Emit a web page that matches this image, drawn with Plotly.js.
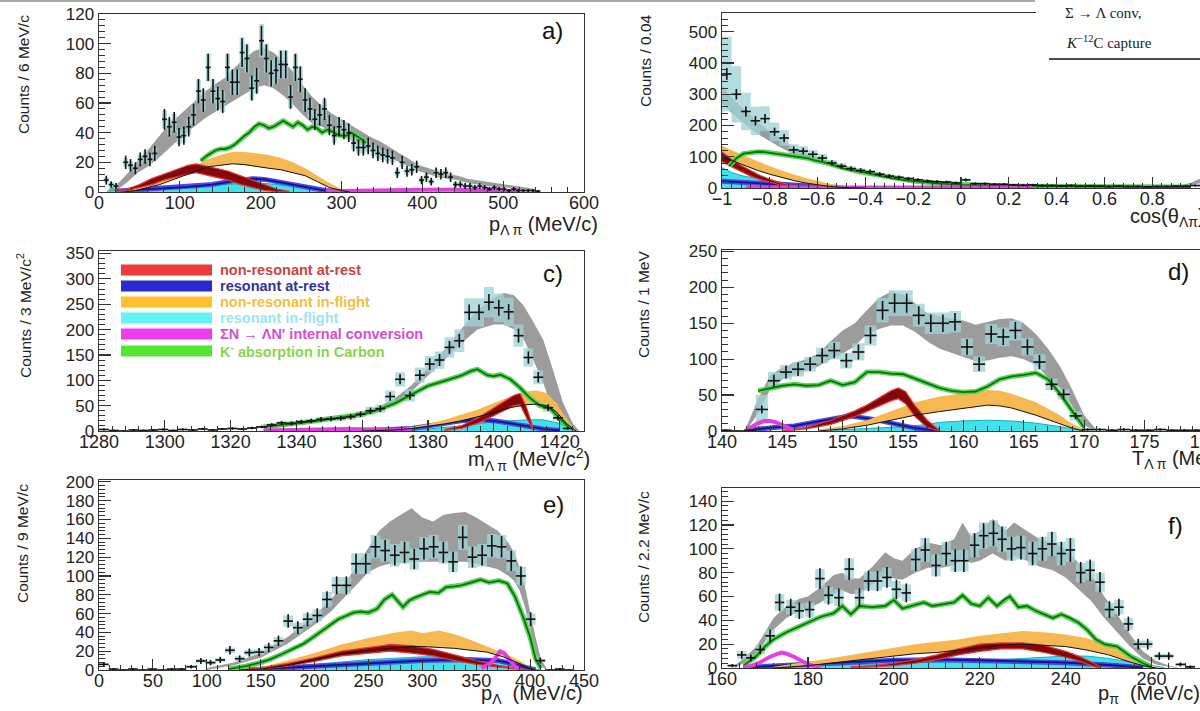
<!DOCTYPE html>
<html><head><meta charset="utf-8">
<script src="https://cdn.plot.ly/plotly-3.0.1.min.js"></script>
<style>html,body{margin:0;padding:0;overflow:hidden;background:#fff;width:1200px;height:711px}#chart{width:1240px;height:711px}</style>
</head><body><div id="chart"></div>
<script>
// ---------------- Panel a: p_{Lambda pi} ----------------
const A_X = [9,15,21,33,39,45,51,57,63,69,81,87,93,99,105,111,117,123,129,135,141,147,153,159,165,171,177,183,189,195,201,207,213,219,225,231,237,243,249,255,261,267,273,279,285,291,297,303,309,315,321,327,333,339,345,351,357,363,369,375,381,387,393,399,405,411,417,423,429,435,441,447,453,459,465,471,477,483,489,495,501,507,513,519,525,531,537,543];
const A_Y = [8,5,4,20,18,16,22,24,22,26,49,44,47,37,38,44,52,68,62,84,68,63,61,84,74,74,94,90,70,75,102,90,80,82,86,86,64,84,76,62,56,49,52,56,45,38,44,42,40,33,30,30,31,28,26,25,24,23,13,20,14,15,17,8,10,7,13,12,13,10,5,5,4,4,3,4,3,2,3,2,2,1,2,1,1,1,1,0.5];
const A_E = [3,2.2,2,4.5,4.2,4,4.7,4.9,4.7,5.1,7,6.6,6.9,6.1,6.2,6.6,7.2,8.2,7.9,9.2,8.2,7.9,7.8,9.2,8.6,8.6,9.7,9.5,8.4,8.7,10,9.5,8.9,9,9.3,9.3,8,9.2,8.7,7.9,7.5,7,7.2,7.5,6.7,6.2,6.6,6.5,6.3,5.7,5.5,5.5,5.6,5.3,5.1,5,4.9,4.8,3.6,4.5,3.7,3.9,4.1,2.8,3.2,2.6,3.6,3.5,3.6,3.2,2.2,2.2,2,2,1.7,2,1.7,1.4,1.7,1.4,1.4,1,1.4,1,1,1,1,0.7];
const A_S = [2,1.5,1.4,3,2.8,2.6,3.2,3.4,3.2,3.6,5.9,5.4,5.7,4.7,4.8,5.4,6.2,7.8,7.2,9.4,7.8,7.3,7.1,9.4,8.4,8.4,10.4,10,8,8.5,11.2,10,9,9.2,9.6,9.6,7.4,9.4,8.6,7.2,6.6,5.9,6.2,6.6,5.5,4.8,5.4,5.2,5,4.3,4,4,4.1,3.8,3.6,3.5,3.4,3.3,2.3,3,2.4,2.5,2.7,1.8,2,1.7,2.3,2.2,2.3,2,1.5,1.5,1.4,1.4,1.3,1.4,1.3,1.2,1.3,1.2,1.2,1.1,1.2,1.1,1.1,1.1,1.1,1];
const A_GRAY_X = [12,24,36,48,60,72,84,96,108,120,132,144,156,168,180,192,204,216,228,240,252,264,276,288,300,312,324,336,348,360,372,384,396,408,420,432,444,456,468,480,492,504,516,528,540];
const A_GRAY_HI = [2,6,13,21,28,36,44,50,56,62,68,73,77,84,90,95,97,94,88,81,72,64,58,53,49,45,41,37,34,30,26,22,18,16,14,12,11,9,8,7,6,5,4,3,2];
const A_GRAY_LO = [0,2,7,13,17,22,28,34,40,45,50,54,58,62,66,70,72,70,65,59,52,46,44,41,38,35,32,29,26,23,20,17,14,12,10,9,8,6,5,4,3,3,2,1,0];
const A_GREEN_X = [126,132,138,144,150,156,162,168,174,180,186,192,198,204,210,216,222,228,234,240,246,252,258,264,270,276,282,288,294,300,306,312,318,324,330];
const A_GREEN_Y = [21,24,26,28,29,29,30,32,35,38,40,44,46,45,43,44,46,48,46,44,47,45,42,44,43,40,42,41,39,38,38,40,38,36,33];
const A_OR_X = [30,45,60,75,90,105,120,135,150,165,180,195,210,225,240,255,270,285,300,310];
const A_OR_HI = [1,3,5,8,11,14,18,22,25,27,27,26,25,23,20,16,11,6,2,0.5];
const A_OR_LO = [0,1,3,5,8,11,14,17,18,19,18.5,17,16,15,13,11,7,3,1,0];
const A_RED_X = [20,35,50,65,80,95,110,120,130,145,160,175,190,205,220,235];
const A_RED_HI = [0.5,2,5,9,12,15,18,19,18,16,14,11,8,5,2,0.5];
const A_RED_LO = [0,1,3,5,8,10,12,13,12,10,8,5,3,1,0.3,0];
const A_BLUE_X = [20,50,80,110,140,160,175,190,205,220,235,250,265,280,295];
const A_BLUE_Y = [0.5,1.5,2.5,3.5,5,7,8,9,8.5,7,5.5,3.5,2,1,0.3];
const A_CYAN_X = [10,30,60,90,120,150,180,200,220,240,260,280,300,320];
const A_CYAN_Y = [0.5,2,3.5,4,4.5,5,6,6,5,4,3,1.5,0.5,0];
const A_MAG_X = [280,320,360,400,440,480,520];
const A_MAG_Y = [0.5,1,1.5,1.5,1.5,1,0.5];

// ---------------- Panel b: cos(theta) ----------------
const B_X = [-0.98,-0.94,-0.90,-0.86,-0.82,-0.78,-0.74,-0.70,-0.66,-0.62,-0.58,-0.54,-0.50,-0.46,-0.42,-0.38,-0.34,-0.30,-0.26,-0.22,-0.18,-0.14,-0.10,-0.06,-0.02,0.02,0.06,0.10,0.14,0.18,0.22,0.26,0.30,0.34,0.38,0.42,0.46,0.50,0.54,0.58,0.62,0.66,0.70,0.74,0.78,0.82,0.86,0.90,0.94,0.98];
const B_Y = [365,300,245,215,222,180,160,122,118,108,96,80,70,62,56,52,44,38,34,30,26,22,20,19,16,26,14,14,12,12,10,9,10,8,8,7,8,6,7,6,5,6,5,5,4,5,5,6,6,8];
const B_E = [19,17,16,15,15,13,13,11,11,10,10,9,8,8,7.5,7,6.6,6.2,5.8,5.5,5.1,4.7,4.5,4.4,4,5.1,3.7,3.7,3.5,3.5,3.2,3,3.2,2.8,2.8,2.6,2.8,2.4,2.6,2.4,2.2,2.4,2.2,2.2,2,2.2,2.2,2.4,2.4,2.8];
const B_S = [120,90,60,45,40,30,25,18,15,14,12,10,9,8,7,6,5,5,4,3,3,3,3,3,3,3,2,2,2,2,2,2,2,2,2,2,2,2,2,2,2,2,2,2,2,2,2,2,2,2];
const B_GRAY_X = [-1,-0.96,-0.92,-0.88,-0.84,-0.80,-0.76,-0.72,-0.68,-0.64,-0.60,-0.56,-0.52,-0.48,-0.44,-0.40,-0.36,-0.32,-0.28,-0.24,-0.20,-0.10,0,0.1,0.2,0.3,0.4,0.5,0.6,0.7,0.8,0.88,0.92,0.96,1.0];
const B_GRAY_HI = [330,290,260,232,205,182,160,140,124,110,97,86,77,69,62,55,49,44,39,35,31,23,18,14,12,10,9,8,7,7,7,8,10,16,30];
const B_GRAY_LO = [270,240,215,190,168,150,132,116,102,90,80,71,63,57,51,45,40,36,32,28,25,18,14,11,9,8,7,6,5,5,5,6,7,10,15];
const B_GREEN_X = [-0.97,-0.94,-0.91,-0.88,-0.85,-0.82,-0.79,-0.76,-0.73,-0.70,-0.67,-0.64,-0.61,-0.58,-0.55,-0.52,-0.49,-0.46,-0.43,-0.40,-0.36,-0.32,-0.28,-0.24,-0.20,-0.10,0,0.1,0.2,0.4,0.6,0.8,0.96];
const B_GREEN_Y = [70,95,110,114,116,115,112,108,104,101,98,95,88,84,78,70,62,58,53,49,42,35,30,25,22,15,10,8,6,5,4,3,3];
const B_OR_X = [-1,-0.95,-0.9,-0.85,-0.8,-0.75,-0.7,-0.65,-0.6,-0.55,-0.5,-0.45,-0.4];
const B_OR_HI = [135,118,100,85,70,56,43,32,22,14,8,3,0.5];
const B_OR_LO = [100,85,70,56,44,33,24,16,10,5,2,0.5,0];
const B_RED_X = [-1,-0.96,-0.92,-0.88,-0.84,-0.80,-0.76,-0.72,-0.68,-0.64,-0.60];
const B_RED_HI = [115,92,72,55,40,28,18,11,6,3,1];
const B_RED_LO = [85,68,52,38,27,18,11,6,3,1,0];
const B_BLUE_X = [-1,-0.95,-0.9,-0.85,-0.8,-0.75,-0.7,-0.65,-0.6,-0.55,-0.5];
const B_BLUE_Y = [22,20,18,16,14,11,8,5,3,1.5,0.5];
const B_CYAN_X = [-1,-0.96,-0.92,-0.88,-0.84,-0.8,-0.75,-0.7,-0.65,-0.6,-0.55,-0.5,-0.45];
const B_CYAN_Y = [65,50,40,33,28,23,18,13,9,6,4,2,0.5];
const B_MAG_X = [-0.9,-0.6,-0.3,0,0.3];
const B_MAG_Y = [2,3,3,2,1];

// ---------------- Panel c: m_{Lambda pi} ----------------
const C_X = [1281.5,1284.5,1287.5,1290.5,1293.5,1296.5,1299.5,1302.5,1305.5,1308.5,1311.5,1314.5,1317.5,1320.5,1323.5,1326.5,1329.5,1332.5,1335.5,1338.5,1341.5,1344.5,1347.5,1350.5,1353.5,1356.5,1359.5,1362.5,1365.5,1368.5,1371.5,1374.5,1377.5,1380.5,1383.5,1386.5,1389.5,1392.5,1395.5,1398.5,1401.5,1404.5,1407.5,1410.5,1413.5,1416.5,1419.5,1422.5];
const C_Y = [3,1,0,2,1,2,3,1,3,2,4,2,4,5,4,6,8,12,16,15,18,20,23,24,25,28,33,40,44,68,102,70,110,132,140,165,178,234,234,254,243,235,188,145,106,46,26,5];
const C_E = [1.7,1,0.5,1.4,1,1.4,1.7,1,1.7,1.4,2,1.4,2,2.2,2,2.4,2.8,3.5,4,3.9,4.2,4.5,4.8,4.9,5,5.3,5.7,6.3,6.6,8.2,10,8.4,10.5,11.5,11.8,12.8,13.3,15.3,15.3,16,15.6,15.3,13.7,12,10.3,6.8,5.1,2.2];
const C_S = [1,1,0.5,1,1,1,1,1,1,1,1.5,1,1.5,1.5,1.5,2,2,3,3,3,4,4,5,5,5,6,6,8,8,12,14,12,15,16,17,20,22,28,28,30,28,28,22,18,14,8,6,2];
const C_GRAY_X = [1325,1330,1335,1340,1345,1350,1355,1360,1365,1370,1375,1380,1385,1390,1395,1400,1403,1406,1409,1412,1415,1418,1421,1424,1426];
const C_GRAY_HI = [6,9,13,18,22,27,32,38,48,65,90,125,160,200,238,262,272,268,248,215,180,120,56,15,2];
const C_GRAY_LO = [3,6,10,14,18,22,27,33,42,56,78,108,140,172,200,210,210,201,182,140,95,40,5,0,0];
const C_GREEN_X = [1330,1335,1340,1345,1350,1355,1360,1365,1370,1375,1380,1385,1390,1393,1395,1398,1400,1402,1405,1408,1411,1414,1417,1420,1423];
const C_GREEN_Y = [8,11,15,19,24,28,33,42,55,72,89,99,109,118,122,110,108,111,102,85,65,50,45,25,5];
const C_OR_X = [1360,1370,1375,1380,1385,1390,1395,1400,1405,1410,1413,1416,1419,1422,1425];
const C_OR_HI = [1,4,8,14,22,32,42,55,68,78,80,75,55,25,2];
const C_OR_LO = [0,2,5,9,14,20,28,36,46,52,53,50,38,15,0];
const C_RED_X = [1385,1390,1395,1400,1403,1406,1408,1410,1412];
const C_RED_HI = [3,10,25,45,58,70,74,45,5];
const C_RED_LO = [1,5,15,30,40,50,52,25,2];
const C_BLUE_X = [1360,1370,1375,1380,1385,1390,1395,1400,1405,1410,1415,1420];
const C_BLUE_Y = [0.5,2,5,10,15,20,22,20,15,9,4,1];
const C_CYAN_X = [1370,1380,1390,1395,1400,1405,1410,1415,1420,1424];
const C_CYAN_Y = [1,4,10,14,18,20,22,22,15,2];
const C_MAG_X = [1330,1345,1355,1365,1375];
const C_MAG_Y = [1,3,4,3,1];

// ---------------- Panel d: T_{Lambda pi} ----------------
const D_X = [140.3,141.3,142.3,143.3,144.3,145.3,146.3,147.3,148.3,149.3,150.3,151.3,152.3,153.3,154.3,155.3,156.3,157.3,158.3,159.3,160.3,161.3,162.3,163.3,164.3,165.3,166.3,167.3,168.3,169.3,170.3,171.3,172.3,173.3,174.3,175.3,176.3,177.3,178.3,179.3,180.3,181.3];
const D_Y = [1,0,1,30,70,82,86,93,105,112,98,110,133,168,178,178,161,150,150,152,117,93,135,131,140,117,96,65,51,21,2,2,1,2,1,1,2,1,1,1,1,1];
const D_E = [1,0,1,5.5,8.4,9,9.3,9.6,10.2,10.6,9.9,10.5,11.5,13,13.3,13.3,12.7,12.2,12.2,12.3,10.8,9.6,11.6,11.4,11.8,10.8,9.8,8,7.1,4.6,1.4,1.4,1,1.4,1,1,1.4,1,1,1,1,1];
const D_S = [1,0,1,20,12,10,10,10,11,12,11,12,14,17,18,18,16,15,15,15,12,11,14,13,14,12,11,8,7,6,2,1,1,1,1,1,1,1,1,1,1,1];
const D_GRAY_X = [142,143,144,145,146,147,148,149,150,151,152,153,154,155,156,157,158,159,160,161,162,163,164,165,166,167,168,169,170,171];
const D_GRAY_HI = [5,45,78,88,95,100,108,125,140,150,168,185,194,190,178,164,160,157,154,148,152,156,157,150,135,115,90,58,22,2];
const D_GRAY_LO = [0,25,58,72,78,84,90,100,108,118,135,142,147,147,138,125,115,108,103,97,98,102,104,100,92,75,60,35,8,0];
const D_GREEN_X = [143,144,145,146,147,148,149,150,151,152,153,154,155,156,157,158,159,160,161,162,163,164,165,166,167,168,169,170];
const D_GREEN_Y = [56,60,63,65,63,64,70,64,68,82,82,80,79,73,66,60,56,54,55,62,72,76,78,81,72,52,28,5];
const D_OR_X = [148,150,152,154,156,158,160,161,162,163,164,166,168,169,170];
const D_OR_HI = [2,7,15,28,40,48,53,55,57,56,52,40,22,10,2];
const D_OR_LO = [0,3,8,15,22,27,32,34,36,35,32,22,10,4,0];
const D_RED_X = [145,147,149,151,152,153,154,154.6,155.2,156,157,158];
const D_RED_HI = [1,5,15,28,36,46,56,60,55,35,15,1];
const D_RED_LO = [0,3,9,20,27,35,42,45,38,20,5,0];
const D_BLUE_X = [142,143,144,145,146,147,148,149,150,150.5,151,152,153,154,155,156,157,158];
const D_BLUE_Y = [1,3,4,6,7,10,13,17,20,21,20,18,15,11,7,4,2,0.5];
const D_CYAN_X = [149,152,155,157,158,160,162,164,166,168,169,170];
const D_CYAN_Y = [1,3,6,9,12,14,15,14,11,6,3,0.5];
const D_MAG_X = [142,142.5,143,143.5,144,144.5,145,145.5,146];
const D_MAG_Y = [1,6,11,14,14,12,8,4,1];

// ---------------- Panel e: p_{Lambda} ----------------
const E_X = [4.5,13.5,22.5,31.5,40.5,49.5,58.5,67.5,76.5,85.5,94.5,103.5,112.5,121.5,130.5,139.5,148.5,157.5,166.5,175.5,184.5,193.5,202.5,211.5,220.5,229.5,238.5,247.5,256.5,265.5,274.5,283.5,292.5,301.5,310.5,319.5,328.5,337.5,346.5,355.5,364.5,373.5,382.5,391.5,400.5,409.5,418.5,427.5,436.5];
const E_Y = [6,1,0,1,0,1,0,1,1,3.5,9.6,7.8,10.7,21,12,18.5,19,24,31,52,45,54,58,75,90,90,113,113,131,127,122,125,118,129,131,125,115,141,120,122,132,131,116,100,54,10,0,1,0];
const E_E = [2.4,1,0,1,0,1,0,1,1,1.9,3.1,2.8,3.3,4.6,3.5,4.3,4.4,4.9,5.6,7.2,6.7,7.3,7.6,8.7,9.5,9.5,10.6,10.6,11.4,11.3,11,11.2,10.9,11.4,11.4,11.2,10.7,11.9,11,11,11.5,11.4,10.8,10,7.3,3.2,0,1,0];
const E_S = [1,0.5,0,0.5,0,0.5,0,0.5,0.5,1,2,2,2,3,2.5,3,3,3.5,4,6,5.5,6,6.5,8,9,9,11,11,12.5,12,12,12,11.5,12.5,12.5,12,11,13.5,11.5,12,12.5,12.5,11,10,6,2,0,0.5,0];
const E_GRAY_X = [100,125,150,175,200,215,230,240,250,260,270,280,290,300,310,320,330,340,350,360,370,380,385,390,395,400,405,410,415];
const E_GRAY_HI = [2,8,18,35,58,75,95,112,130,148,158,165,172,162,158,165,167,168,162,155,148,135,125,110,90,62,35,12,2];
const E_GRAY_LO = [0,5,13,28,48,62,80,92,104,110,113,114,115,115,115,115,115,115,113,110,107,100,95,85,68,45,20,5,0];
const E_GREEN_X = [120,136,150,158,170,179,190,200,210,222,230,236,243,250,258,265,272,278,282,288,293,300,307,315,322,330,336,345,354,362,371,379,386,393,400,405,410];
const E_GREEN_Y = [1,4,8,11,17,22,28,36,44,54,58,61,62,61,65,75,80,72,67,74,77,80,83,82,88,89,90,93,96,93,95,92,78,58,35,12,2];
const E_OR_X = [130,150,175,200,225,250,275,290,300,315,330,345,360,375,390,400,405];
const E_OR_HI = [1,3,10,18,27,34,40,42,39,42,38,32,25,18,10,3,0.5];
const E_OR_LO = [0,1,5,11,17,21,24,25,25,24,23,21,19,14,7,2,0];
const E_RED_X = [130,150,175,200,225,250,270,290,310,330,350,370,390,400];
const E_RED_HI = [0.5,2,7,13,20,24,27,26,22,16,10,5,2,0.5];
const E_RED_LO = [0,1,4,9,15,18,20,18,15,10,6,3,1,0];
const E_BLUE_X = [130,150,200,250,300,340,370,390,400,405];
const E_BLUE_Y = [0.5,1,4,7,10,11,10,5,1,0];
const E_CYAN_X = [120,150,200,250,300,330,360,380,400,410];
const E_CYAN_Y = [1,2,6,11,14,14,12,8,2,0];
const E_MAG_X = [355,362,368,372,376,380,385,390];
const E_MAG_Y = [2,6,13,20,18,12,5,1];

// ---------------- Panel f: p_{pi} ----------------
const F_X = [162.4,164.6,166.7,168.9,171.2,173.4,176.0,178.0,180.4,182.8,184.8,187.2,189.6,192.0,194.1,196.2,198.4,200.6,202.9,205.1,207.3,209.8,212.2,214.3,216.3,218.8,220.9,223.2,225.2,227.4,229.6,232.3,234.6,236.8,239.0,241.1,243.5,245.7,248.0,250.2,252.4,254.6,256.9,259.1,261.8,264.0,266.7,269.0];
const F_Y = [2,11,8.5,15.5,27,55,51,48,49,75,61,59,83,59,73,73,76,66,63,91,99,86,96,90,90,103,111,113,108,100,101,96,100,104,96,99,80,82,72,49,51,37,20,20,10,10,3,1];
const F_E = [1.4,3.3,2.9,3.9,5.2,7.4,7.1,6.9,7,8.7,7.8,7.7,9.1,7.7,8.5,8.5,8.7,8.1,7.9,9.5,9.9,9.3,9.8,9.5,9.5,10.1,10.5,10.6,10.4,10,10,9.8,10,10.2,9.8,9.9,8.9,9,8.5,7,7.1,6.1,4.5,4.5,3.2,3.2,1.7,1];
const F_S = [1,3,3,4,5,7,6,6,6,8,7,7,9,7,8,8,8,7,7,9,10,9,10,9,9,10,11,11,11,10,10,10,10,10,10,10,8,8,8,6,6,5,3,3,2,2,1,1];
const F_GRAY_X = [163,165,168,170,172,175,178,180,183,186,188,190,192,195,198,200,202,205,208,211,214,216,218,220,223,226,228,231,234,237,240,243,246,249,252,255,258,261,264,266];
const F_GRAY_HI = [2,8,18,30,42,52,58,60,68,78,80,75,75,85,97,92,90,100,105,103,108,122,110,115,125,115,122,115,108,105,100,88,78,60,45,28,14,6,2,0.5];
const F_GRAY_LO = [0,4,12,22,32,42,48,50,55,62,65,62,62,70,78,75,74,80,84,84,86,92,88,90,96,90,94,90,85,82,76,66,56,42,30,18,8,3,1,0];
const F_GREEN_X = [165,168,170,172,175,178,180,183,186,188,190,192,195,198,200,202,204,207,209,212,214,216,218,220,222,224,226,227,229,231,233,235,237,239,241,243,245,247,249,252,255,258,260];
const F_GREEN_Y = [2,10,18,24,30,35,38,43,46,52,45,52,51,52,57,50,52,55,52,54,55,61,54,52,59,52,58,60,51,52,48,45,42,45,42,38,32,24,20,18,10,4,1];
const F_OR_X = [172,180,185,190,195,200,205,210,215,220,225,230,235,240,245,250,255,258,261];
const F_OR_HI = [1,5,8,11,14,17,20,22,24,27,29,31,30,28,25,19,11,5,1];
const F_OR_LO = [0,2,4,6,8,10,12,13,15,17,19,20,19,18,15,11,5,2,0];
const F_RED_X = [190,195,200,205,210,215,220,225,230,235,240,243,246,248];
const F_RED_HI = [1,2,4,7,11,16,20,21,21,19,14,10,5,1];
const F_RED_LO = [0,1,2,4,7,11,14,16,16,13,9,6,2,0];
const F_BLUE_X = [165,170,180,190,200,210,220,230,240,250,255,258];
const F_BLUE_Y = [0.5,1.5,3,5,6.5,7,6.5,5.5,4.5,2.5,1,0.3];
const F_CYAN_X = [170,180,190,200,210,220,230,235,240,245,250,255,260,263];
const F_CYAN_Y = [0.5,1.5,2.5,3.5,4.5,6,8,9,10,10,8,5,2,0.3];
const F_MAG_X = [165,167,169,171,173,174,175,177,179,181,183];
const F_MAG_Y = [0.5,2,5,9,12,13,12,9,5,2,0.5];

const LEGEND_LABELS = ["non-resonant at-rest","resonant at-rest","non-resonant in-flight","resonant in-flight","ΣN → ΛN' internal conversion","K<sup>-</sup> absorption in Carbon"];

// ---------------- drawing ----------------
const W = 1240, H = 711;
const FONT = 'Liberation Sans, Arial, Helvetica, sans-serif';
const px = x => x / W, py = y => 1 - y / H;

function poly(xs, lo, hi) { return {x: xs.concat(xs.slice().reverse()), y: hi.concat(lo.slice().reverse())}; }
function boxes(X, Y, S, hw) {
  const x = [], y = [];
  X.forEach((xv, i) => { const l = Y[i] - S[i], h = Y[i] + S[i];
    x.push(xv - hw, xv + hw, xv + hw, xv - hw, xv - hw, null); y.push(l, l, h, h, l, null); });
  return {x, y};
}

const panels = [
  {xa:'x', ya:'y', bw:6, X:A_X,Y:A_Y,E:A_E,S:A_S, gX:A_GRAY_X,gL:A_GRAY_LO,gH:A_GRAY_HI, grX:A_GREEN_X,grY:A_GREEN_Y, oX:A_OR_X,oL:A_OR_LO,oH:A_OR_HI, rX:A_RED_X,rL:A_RED_LO,rH:A_RED_HI, bX:A_BLUE_X,bY:A_BLUE_Y, cX:A_CYAN_X,cY:A_CYAN_Y, mX:A_MAG_X,mY:A_MAG_Y},
  {xa:'x2', ya:'y2', bw:0.04, X:B_X,Y:B_Y,E:B_E,S:B_S, gX:B_GRAY_X,gL:B_GRAY_LO,gH:B_GRAY_HI, grX:B_GREEN_X,grY:B_GREEN_Y, oX:B_OR_X,oL:B_OR_LO,oH:B_OR_HI, rX:B_RED_X,rL:B_RED_LO,rH:B_RED_HI, bX:B_BLUE_X,bY:B_BLUE_Y, cX:B_CYAN_X,cY:B_CYAN_Y, mX:B_MAG_X,mY:B_MAG_Y},
  {xa:'x3', ya:'y3', bw:3, X:C_X,Y:C_Y,E:C_E,S:C_S, gX:C_GRAY_X,gL:C_GRAY_LO,gH:C_GRAY_HI, grX:C_GREEN_X,grY:C_GREEN_Y, oX:C_OR_X,oL:C_OR_LO,oH:C_OR_HI, rX:C_RED_X,rL:C_RED_LO,rH:C_RED_HI, bX:C_BLUE_X,bY:C_BLUE_Y, cX:C_CYAN_X,cY:C_CYAN_Y, mX:C_MAG_X,mY:C_MAG_Y},
  {xa:'x4', ya:'y4', bw:1, X:D_X,Y:D_Y,E:D_E,S:D_S, gX:D_GRAY_X,gL:D_GRAY_LO,gH:D_GRAY_HI, grX:D_GREEN_X,grY:D_GREEN_Y, oX:D_OR_X,oL:D_OR_LO,oH:D_OR_HI, rX:D_RED_X,rL:D_RED_LO,rH:D_RED_HI, bX:D_BLUE_X,bY:D_BLUE_Y, cX:D_CYAN_X,cY:D_CYAN_Y, mX:D_MAG_X,mY:D_MAG_Y},
  {xa:'x5', ya:'y5', bw:9, X:E_X,Y:E_Y,E:E_E,S:E_S, gX:E_GRAY_X,gL:E_GRAY_LO,gH:E_GRAY_HI, grX:E_GREEN_X,grY:E_GREEN_Y, oX:E_OR_X,oL:E_OR_LO,oH:E_OR_HI, rX:E_RED_X,rL:E_RED_LO,rH:E_RED_HI, bX:E_BLUE_X,bY:E_BLUE_Y, cX:E_CYAN_X,cY:E_CYAN_Y, mX:E_MAG_X,mY:E_MAG_Y},
  {xa:'x6', ya:'y6', bw:2.2, X:F_X,Y:F_Y,E:F_E,S:F_S, gX:F_GRAY_X,gL:F_GRAY_LO,gH:F_GRAY_HI, grX:F_GREEN_X,grY:F_GREEN_Y, oX:F_OR_X,oL:F_OR_LO,oH:F_OR_HI, rX:F_RED_X,rL:F_RED_LO,rH:F_RED_HI, bX:F_BLUE_X,bY:F_BLUE_Y, cX:F_CYAN_X,cY:F_CYAN_Y, mX:F_MAG_X,mY:F_MAG_Y}
];

const traces = [];
panels.forEach(P => {
  const base = {xaxis:P.xa, yaxis:P.ya, type:'scatter', hoverinfo:'skip', showlegend:false};
  const g = poly(P.gX, P.gL, P.gH);
  traces.push({...base, x:g.x, y:g.y, mode:'lines', fill:'toself', fillcolor:'#9c9c9c', line:{width:0}});
  const b = boxes(P.X, P.Y, P.S, P.bw * 0.5);
  traces.push({...base, x:b.x, y:b.y, mode:'lines', fill:'toself', fillcolor:'rgba(160,210,214,0.78)', line:{width:0}});
  traces.push({...base, x:P.cX, y:P.cY, mode:'lines', fill:'tozeroy', fillcolor:'#40e2ea', line:{color:'#10b0c0', width:1}});
  traces.push({...base, x:P.bX, y:P.bY, mode:'lines', line:{color:'#4a4ae6', width:5}});
  traces.push({...base, x:P.bX, y:P.bY, mode:'lines', line:{color:'#14148a', width:1.8}});
  const o = poly(P.oX, P.oL, P.oH);
  traces.push({...base, x:o.x, y:o.y, mode:'lines', fill:'toself', fillcolor:'#f6b852', line:{width:0}});
  const r = poly(P.rX, P.rL, P.rH);
  traces.push({...base, x:r.x, y:r.y, mode:'lines', fill:'toself', fillcolor:'#840808', line:{color:'#e03a3a', width:1.2}});
  traces.push({...base, x:P.grX, y:P.grY, mode:'lines', line:{color:'#5cd25c', width:5}});
  traces.push({...base, x:P.grX, y:P.grY, mode:'lines', line:{color:'#0a740a', width:1.8}});
  traces.push({...base, x:P.mX, y:P.mY, mode:'lines', line:{color:'#e23ee2', width:4}});
  traces.push({...base, x:P.oX, y:P.oL, mode:'lines', line:{color:'#111', width:1}});
  traces.push({...base, x:P.X, y:P.Y, mode:'markers', marker:{size:2, color:'#111'},
    error_y:{type:'data', array:P.E, visible:true, color:'#111', thickness:1.6, width:0},
    error_x:{type:'constant', value:P.bw / 2, visible:true, color:'#111', thickness:1.6, width:0}});
});

function xax(d0, d1, range, dtick, mdt, anchor, extra) {
  return Object.assign({domain:[px(d0), px(d1)], range, dtick, anchor, ticks:'inside', ticklen:11, tickwidth:1.2, tickcolor:'#333',
    showline:true, linecolor:'#333', linewidth:1.4, mirror:true, showgrid:false, zeroline:false, ticklabelstandoff:-6,
    tickfont:{family:FONT, size:18, color:'#222'}, minor:{dtick:mdt, ticks:'inside', ticklen:5, tickwidth:1, tickcolor:'#333', showgrid:false}}, extra || {});
}
function yax(top, bot, range, dtick, mdt, anchor) {
  return {domain:[py(bot), py(top)], range, dtick, anchor, ticks:'inside', ticklen:12, tickwidth:1.2, tickcolor:'#333',
    showline:true, linecolor:'#333', linewidth:1.4, mirror:true, showgrid:false, zeroline:false,
    tickfont:{family:FONT, size:17, color:'#222'}, minor:{dtick:mdt, ticks:'inside', ticklen:6, tickwidth:1, tickcolor:'#333', showgrid:false}};
}

const layout = {
  width:W, height:H, margin:{l:0, r:0, t:0, b:0}, paper_bgcolor:'#fff', plot_bgcolor:'rgba(0,0,0,0)', showlegend:false,
  xaxis: xax(99, 584, [0, 600], 100, 20, 'y'),
  yaxis: yax(14, 192, [0, 120], 20, 4, 'x'),
  xaxis2: xax(722, 1200, [-1, 1], 0.2, 0.04, 'y2', {tickmode:'array', tickvals:[-1,-0.8,-0.6,-0.4,-0.2,0,0.2,0.4,0.6,0.8], ticktext:['−1','−0.8','−0.6','−0.4','−0.2','0','0.2','0.4','0.6','0.8']}),
  yaxis2: yax(13, 188, [0, 560], 100, 20, 'x2'),
  xaxis3: xax(99, 584, [1280, 1427.4], 20, 4, 'y3'),
  yaxis3: yax(251, 431, [0, 355], 50, 10, 'x3'),
  xaxis4: xax(722, 1229, [140, 182], 5, 1, 'y4'),
  yaxis4: yax(250, 431, [0, 252], 50, 10, 'x4'),
  xaxis5: xax(99, 584, [0, 450], 50, 10, 'y5'),
  yaxis5: yax(480, 670, [0, 202], 20, 4, 'x5'),
  xaxis6: xax(722, 1216, [160, 275], 20, 4, 'y6'),
  yaxis6: yax(488, 668, [0, 151], 20, 4, 'x6'),
  shapes: [], annotations: []
};

// panel labels
[['a)',552,30],['c)',553,273],['d)',1178,272],['e)',553,505],['f)',1175,525]].forEach(t => {
  layout.annotations.push({text:t[0], x:px(t[1]), y:py(t[2]), xref:'paper', yref:'paper', showarrow:false, xanchor:'center', yanchor:'middle', font:{family:FONT, size:24, color:'#111'}});
});
// y titles
[['Counts / 6 MeV/c',23,75],['Counts / 0.04',645,61],['Counts / 3 MeV/c<sup>2</sup>',24,316],['Counts / 1 MeV',643,305],['Counts / 9 MeV/c',22,544],['Counts / 2.2 MeV/c',643,557]].forEach(t => {
  layout.annotations.push({text:t[0], x:px(t[1]), y:py(t[2]), xref:'paper', yref:'paper', showarrow:false, textangle:-90, xanchor:'center', yanchor:'middle', font:{family:FONT, size:15.5, color:'#222'}});
});
// x titles
[['p<sub>Λ π</sub> (MeV/c)',600,226,'right'],['cos(θ<sub>Λπ</sub>)',1128,217,'left'],['m<sub>Λ π</sub> (MeV/c<sup>2</sup>)',592,459,'right'],
 ['T<sub>Λ π</sub> (MeV)',1130,459,'left'],['p<sub>Λ</sub>  (MeV/c)',585,694,'right'],['p<sub>π</sub>  (MeV/c)',1202,694,'right']].forEach(t => {
  layout.annotations.push({text:t[0], x:px(t[1]), y:py(t[2]), xref:'paper', yref:'paper', showarrow:false, xanchor:t[3], yanchor:'middle', font:{family:FONT, size:20, color:'#222'}});
});

// legend in panel c
const legRect = ['#ee3a3a','#2a2ad0','#ffc22a','#62f4f4','#f03cf0','#52e634'];
const legText = ['#c94444','#343494','#f0c040','#9ce6f0','#d24ed2','#8cd24e'];
const legY = [270,286,302,318,334,351];
LEGEND_LABELS.forEach((lab, i) => {
  layout.shapes.push({type:'rect', xref:'paper', yref:'paper', x0:px(121), x1:px(212), y0:py(legY[i] + 5.5), y1:py(legY[i] - 5.5), fillcolor:legRect[i], line:{width:0}, layer:'above'});
  layout.annotations.push({text:'<b>' + lab + '</b>', x:px(218), y:py(legY[i]), xref:'paper', yref:'paper', showarrow:false, xanchor:'left', yanchor:'middle', font:{family:FONT, size:14.5, color:legText[i]}});
});

// top strip and inset box
layout.shapes.push({type:'line', xref:'paper', yref:'paper', x0:0, x1:px(1035), y0:py(1), y1:py(1), line:{color:'#aaaaaa', width:2}, layer:'above'});
layout.shapes.push({type:'rect', xref:'paper', yref:'paper', x0:px(1036), x1:1, y0:py(58), y1:1, fillcolor:'#ffffff', line:{width:0}, layer:'above'});
layout.shapes.push({type:'line', xref:'paper', yref:'paper', x0:px(1049), x1:1, y0:py(59), y1:py(59), line:{color:'#111', width:1.5}, layer:'above'});
layout.annotations.push({text:'Σ → Λ conv,', x:px(1063), y:py(13), xref:'paper', yref:'paper', showarrow:false, xanchor:'left', yanchor:'middle', font:{family:'Liberation Serif, Times New Roman, serif', size:15, color:'#222'}});
layout.annotations.push({text:'<i>K</i><sup>−12</sup>C capture', x:px(1064), y:py(42), xref:'paper', yref:'paper', showarrow:false, xanchor:'left', yanchor:'middle', font:{family:'Liberation Serif, Times New Roman, serif', size:15, color:'#222'}});

Plotly.newPlot('chart', traces, layout, {staticPlot:true, displayModeBar:false});
</script>
</body></html>
